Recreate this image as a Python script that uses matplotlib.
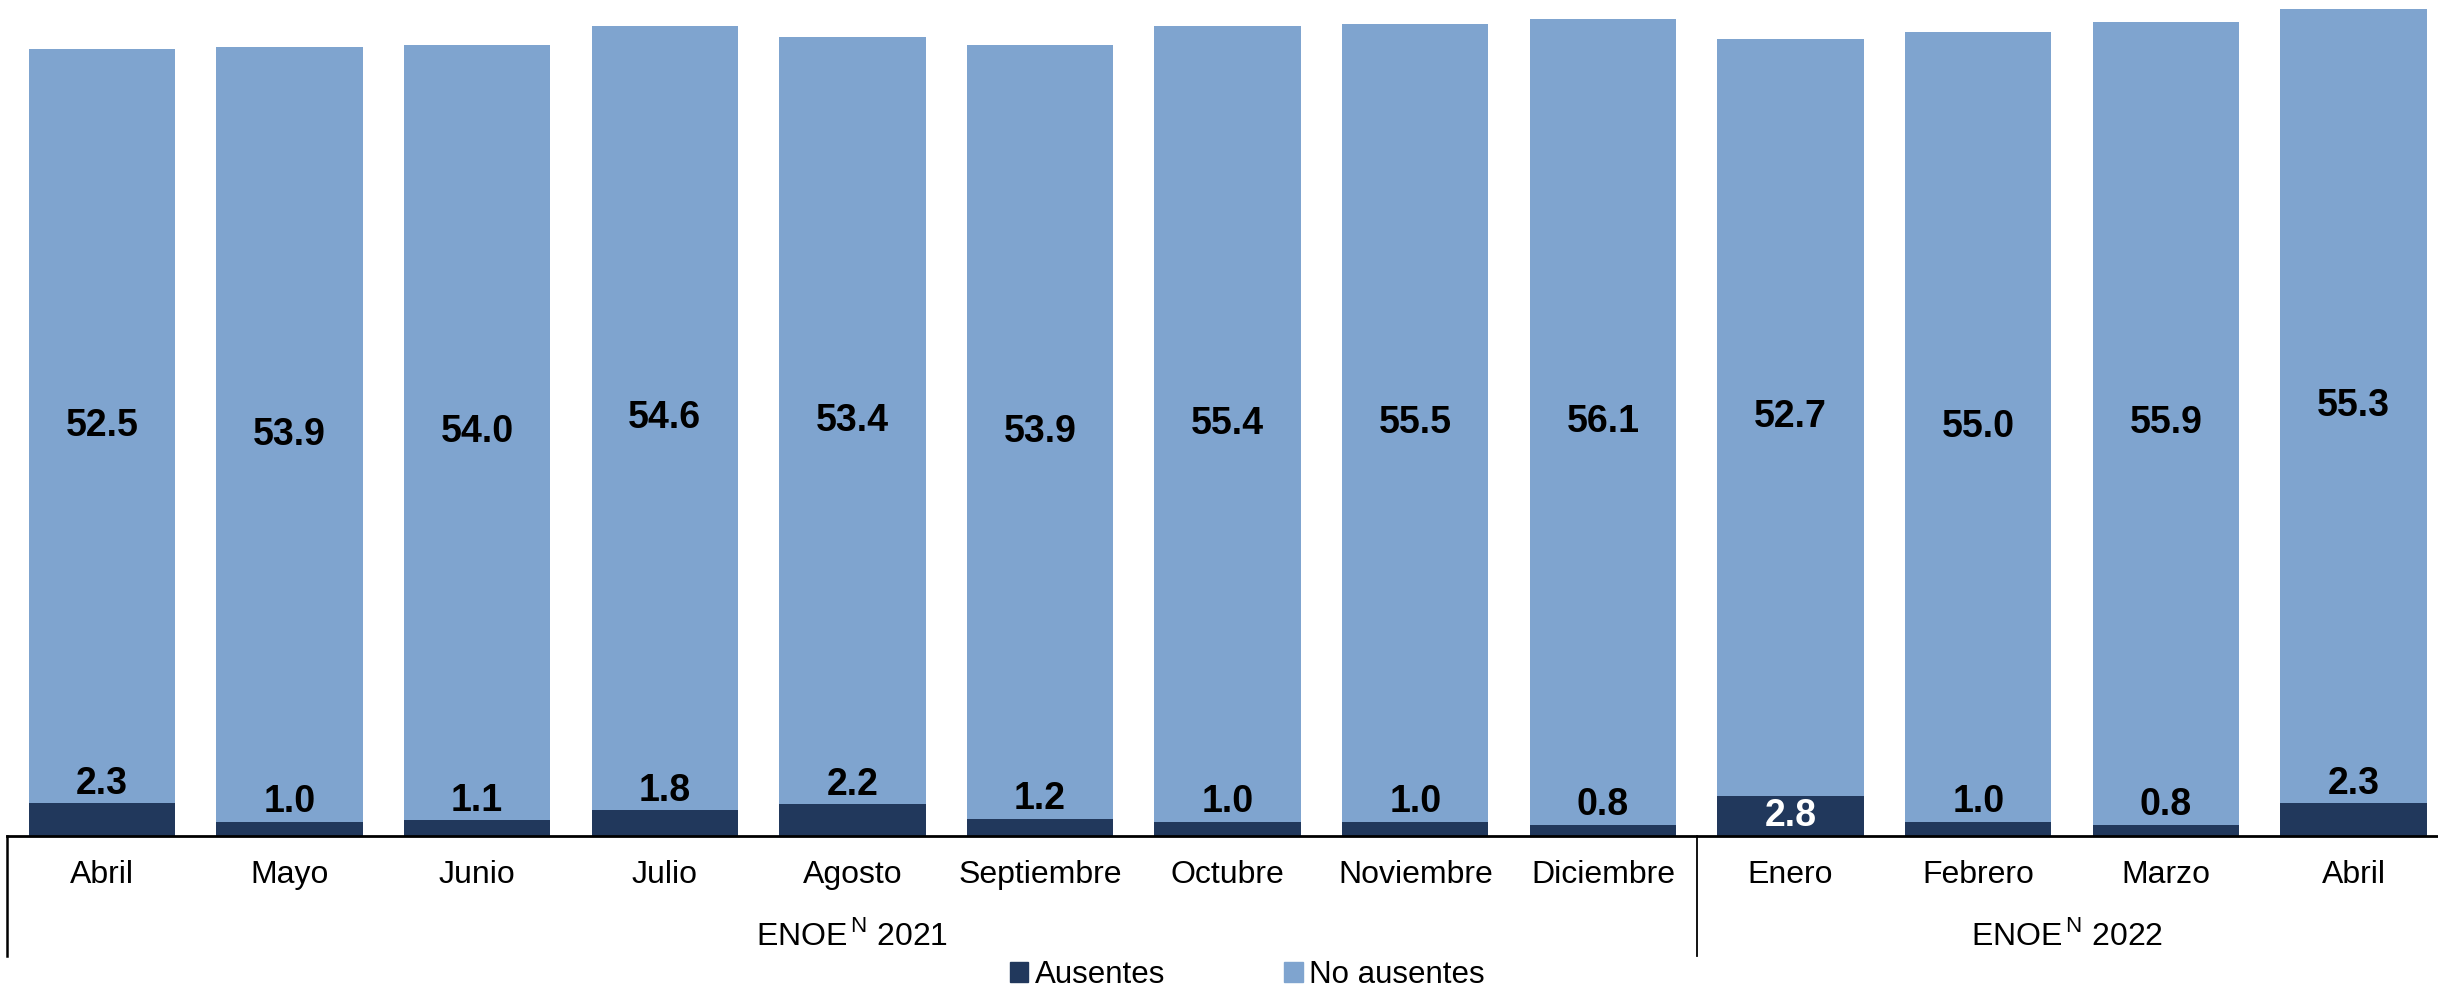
import numpy as np
import matplotlib.pyplot as plt
from matplotlib.patches import Patch
import matplotlib.transforms as mtransforms

plt.rcParams['font.family'] = ['Liberation Sans', 'DejaVu Sans']
plt.rcParams['mathtext.fontset'] = 'custom'
plt.rcParams['mathtext.rm'] = 'Liberation Sans'

# data
meses = ['Abril', 'Mayo', 'Junio', 'Julio', 'Agosto', 'Septiembre', 'Octubre',
         'Noviembre', 'Diciembre', 'Enero', 'Febrero', 'Marzo', 'Abril']
ausentes = [2.3, 1.0, 1.1, 1.8, 2.2, 1.2, 1.0, 1.0, 0.8, 2.8, 1.0, 0.8, 2.3]
no_ausentes = [52.5, 53.9, 54.0, 54.6, 53.4, 53.9, 55.4, 55.5, 56.1, 52.7, 55.0, 55.9, 55.3]
grupos = ['ENOE', 'ENOE']
anios = ['2021', '2022']
n_grupo1 = 9

c_aus = '#21385C'
c_no = '#7FA4CF'

fig = plt.figure(figsize=(24.38, 9.9), dpi=100)
ax = fig.add_axes([7 / 2438, 154 / 990, 1 - 7 / 2438, 836 / 990])

x = np.arange(len(meses))
ax.bar(x, ausentes, width=0.78, color=c_aus, label='Ausentes')
ax.bar(x, no_ausentes, width=0.78, bottom=ausentes, color=c_no, label='No ausentes')

ax.set_xlim(-0.505, 12.45)
ax.set_ylim(0, 58.2)

# etiquetas de datos
for i in range(len(x)):
    a = ausentes[i]
    if a >= 2.5:
        ax.text(x[i], a / 2, f'{a:.1f}', ha='center', va='center',
                fontsize=27, fontweight='bold', color='white')
    else:
        ax.text(x[i], a + 1.35, f'{a:.1f}', ha='center', va='center',
                fontsize=27, fontweight='bold', color='black')
    ax.text(x[i], a + no_ausentes[i] / 2, f'{no_ausentes[i]:.1f}', ha='center',
            va='center', fontsize=27, fontweight='bold', color='black')

for s in ['top', 'right', 'left']:
    ax.spines[s].set_visible(False)
ax.spines['bottom'].set_linewidth(2)
ax.set_xticks([])
ax.set_yticks([])

trans = mtransforms.blended_transform_factory(ax.transData, ax.transAxes)
for i, m in enumerate(meses):
    ax.text(x[i], -0.0467, m, transform=trans, ha='center', va='center', fontsize=23)

# separadores de grupos
y_bajo = -120 / 836
ax.plot([-0.505, -0.505], [0, y_bajo], transform=trans, color='black', lw=1.8, clip_on=False)
ax.plot([n_grupo1 - 0.5, n_grupo1 - 0.5], [0, y_bajo], transform=trans, color='black',
        lw=1.3, clip_on=False)

centros = [(-0.505 + n_grupo1 - 0.5) / 2, (n_grupo1 - 0.5 + 12.45) / 2]
for c, g, a in zip(centros, grupos, anios):
    ax.text(c, -0.12, g + r'$^{\mathbf{\,}\mathrm{N}}$ ' + a, transform=trans,
            ha='center', va='center', fontsize=23)

handles = [Patch(color=c_aus), Patch(color=c_no)]
fig.legend(handles, ['Ausentes', 'No ausentes'], loc='center',
           bbox_to_anchor=(1247 / 2438, 15 / 990), ncol=2, frameon=False,
           fontsize=22.5, handlelength=0.6, handleheight=0.6, handletextpad=0.2,
           columnspacing=3.8)

fig.savefig('out.png', dpi=100)
